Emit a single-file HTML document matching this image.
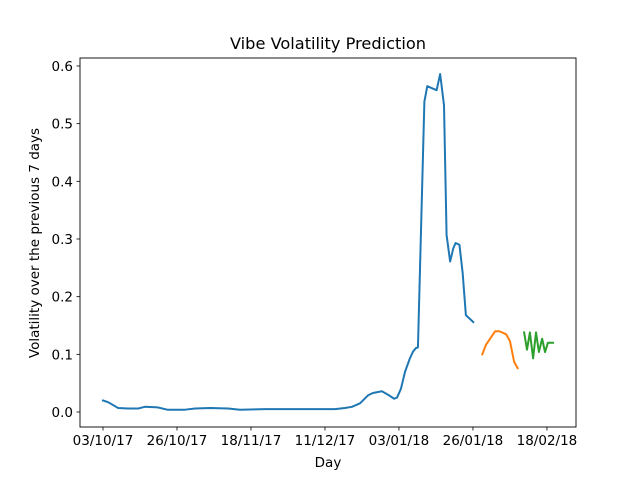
<!DOCTYPE html>
<html><head><meta charset="utf-8"><style>
body{margin:0;background:#fff}
svg{font-family:"DejaVu Sans","Liberation Sans",sans-serif}
</style></head><body>
<svg id="chart" width="640" height="480" xmlns="http://www.w3.org/2000/svg">
<rect width="640" height="480" fill="#fff"/>
<text x="328" y="49" font-size="16.2" text-anchor="middle">Vibe Volatility Prediction</text>
<text x="328" y="467" font-size="13.5" text-anchor="middle">Day</text>
<text transform="translate(39,243) rotate(-90)" font-size="13.5" text-anchor="middle">Volatility over the previous 7 days</text>
<g id="plot"></g>
<rect x="80" y="58" width="496" height="369" fill="none" stroke="#000" stroke-width="0.9"/>
</svg>
<script>
const blueDays=[0,1.6,4.7,7.8,10.9,13,17,20,25.5,28.6,33.3,38.9,42.6,50.4,61.2,67.5,72.1,75.2,77.4,79.9,82.4,83.9,86.7,88.6,90.5,91.4,92.6,93.9,95.4,96.4,97.3,97.9,99.9,100.8,103.7,104.8,106,106.8,107.9,108.9,109.6,110.8,111.8,112.8,115.1];
const blueVals=[0.020,0.017,0.007,0.006,0.006,0.009,0.008,0.004,0.004,0.006,0.007,0.006,0.004,0.005,0.005,0.005,0.005,0.007,0.009,0.015,0.029,0.033,0.036,0.030,0.023,0.025,0.040,0.070,0.093,0.105,0.111,0.112,0.538,0.565,0.558,0.586,0.532,0.307,0.261,0.284,0.293,0.290,0.241,0.168,0.156];
const orangeDays=[117.9,119,120.8,121.9,123.2,125.3,126.5,127.8,128.9];
const orangeVals=[0.100,0.116,0.131,0.140,0.140,0.135,0.123,0.087,0.076];
const greenDays=[130.9,131.8,132.7,133.7,134.6,135.5,136.5,137.4,138.3,139.3,139.9];
const greenVals=[0.138,0.108,0.138,0.093,0.138,0.104,0.127,0.104,0.120,0.120,0.120];
const xTickDays=[0,23,46,69,92,115,138];
const xTickLabels=["03/10/17","26/10/17","18/11/17","11/12/17","03/01/18","26/01/18","18/02/18"];
const yTicks=[0,0.1,0.2,0.3,0.4,0.5,0.6];
const yTickLabels=["0.0","0.1","0.2","0.3","0.4","0.5","0.6"];

const NS="http://www.w3.org/2000/svg";
const xS=d=>103+d*3.217;
const yS=v=>412-v*576.7;
const g=document.getElementById('plot');
function mk(t,a){const e=document.createElementNS(NS,t);for(const k in a)e.setAttribute(k,a[k]);return e;}
xTickDays.forEach((d,i)=>{
  const l=mk('line',{x1:xS(d),x2:xS(d),y1:427,y2:430.5,stroke:'#000','stroke-width':0.8});
  
  
  g.appendChild(l);
  const t=mk('text',{x:xS(d),y:445,'font-size':13.5,'text-anchor':'middle'});
  t.textContent=xTickLabels[i];
  
  
  g.appendChild(t);
});
yTicks.forEach((v,i)=>{
  const l=mk('line',{x1:76.5,x2:80,y1:yS(v),y2:yS(v),stroke:'#000','stroke-width':0.8});
  
  
  g.appendChild(l);
  const t=mk('text',{x:73,y:yS(v)+5,'font-size':13.5,'text-anchor':'end'});
  t.textContent=yTickLabels[i];
  
  
  g.appendChild(t);
});
function series(days,vals,color,name){
  const p=mk('polyline',{points:days.map((d,i)=>xS(d)+','+yS(vals[i])).join(' '),fill:'none',stroke:color,'stroke-width':2,'stroke-linejoin':'round','stroke-linecap':'square'});
  
  
  g.appendChild(p);
}
series(blueDays,blueVals,'#1f77b4','historical-volatility-line');
series(orangeDays,orangeVals,'#ff7f0e','prediction-line-1');
series(greenDays,greenVals,'#2ca02c','prediction-line-2');
</script>
</body></html>
